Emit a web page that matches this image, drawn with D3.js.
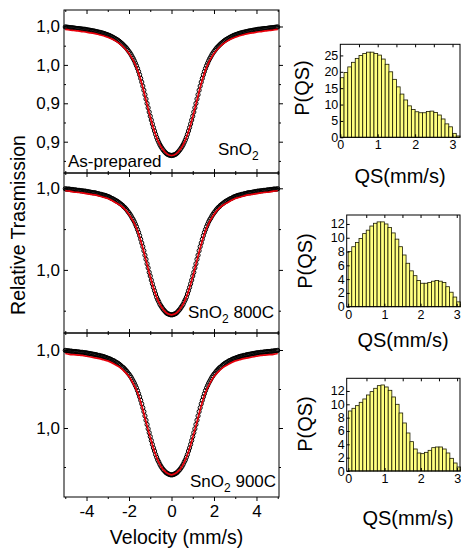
<!DOCTYPE html>
<html>
<head>
<meta charset="utf-8">
<script src="https://cdn.jsdelivr.net/npm/d3@7"></script>
<style>
  body { margin: 0; background: #fff; }
  svg { display: block; }
  text { font-family: "Liberation Sans", Arial, sans-serif; fill: #000; }
</style>
</head>
<body>
<svg id="fig" width="461" height="550"></svg>
<script>
// Mössbauer spectra: channel velocity = velStart + i * velStep (mm/s)
const velStart = -5, velStep = 0.05;
// fitted envelope sampled on a coarser grid
const fitStart = -5, fitStep = 0.2;

// Relative transmission, as-prepared SnO2
const specAsPrepared = [
  0.9997,0.9996,0.9995,0.9994,0.9993,0.9992,0.9992,0.9991,0.9990,0.9989,
  0.9988,0.9987,0.9987,0.9986,0.9985,0.9984,0.9983,0.9982,0.9982,0.9981,
  0.9979,0.9978,0.9976,0.9976,0.9974,0.9973,0.9971,0.9971,0.9969,0.9967,
  0.9966,0.9964,0.9962,0.9961,0.9959,0.9957,0.9955,0.9953,0.9950,0.9948,
  0.9945,0.9943,0.9940,0.9936,0.9933,0.9929,0.9925,0.9921,0.9917,0.9913,
  0.9908,0.9903,0.9897,0.9891,0.9885,0.9878,0.9871,0.9864,0.9856,0.9846,
  0.9837,0.9827,0.9816,0.9803,0.9791,0.9777,0.9761,0.9745,0.9727,0.9707,
  0.9686,0.9662,0.9638,0.9612,0.9585,0.9556,0.9528,0.9499,0.9471,0.9443,
  0.9416,0.9391,0.9366,0.9342,0.9320,0.9298,0.9278,0.9261,0.9246,0.9231,
  0.9219,0.9208,0.9198,0.9189,0.9181,0.9174,0.9169,0.9165,0.9163,0.9161,
  0.9160,
  0.9161,0.9163,0.9165,0.9169,0.9174,0.9181,0.9189,0.9198,0.9208,0.9219,
  0.9231,0.9246,0.9261,0.9278,0.9298,0.9320,0.9342,0.9366,0.9391,0.9416,
  0.9443,0.9471,0.9499,0.9528,0.9556,0.9585,0.9612,0.9638,0.9662,0.9686,
  0.9707,0.9727,0.9745,0.9761,0.9777,0.9791,0.9803,0.9816,0.9827,0.9837,
  0.9846,0.9856,0.9864,0.9871,0.9878,0.9885,0.9891,0.9897,0.9903,0.9908,
  0.9913,0.9917,0.9921,0.9925,0.9929,0.9933,0.9936,0.9940,0.9943,0.9945,
  0.9948,0.9950,0.9953,0.9955,0.9957,0.9959,0.9961,0.9962,0.9964,0.9966,
  0.9967,0.9969,0.9971,0.9971,0.9973,0.9974,0.9976,0.9976,0.9978,0.9979,
  0.9981,0.9982,0.9982,0.9983,0.9984,0.9985,0.9986,0.9987,0.9987,0.9988,
  0.9989,0.9990,0.9991,0.9992,0.9992,0.9993,0.9994,0.9995,0.9996,0.9997
];
const fitAsPrepared = [
  0.9981,0.9977,0.9974,0.9971,0.9967,0.9963,0.9958,0.9954,0.9947,0.9940,
  0.9930,0.9918,0.9903,0.9883,0.9857,0.9824,0.9779,0.9716,0.9629,0.9521,
  0.9411,0.9317,0.9244,0.9197,0.9169,
  0.9160,
  0.9169,0.9197,0.9244,0.9317,0.9411,0.9521,0.9629,0.9716,0.9779,0.9824,
  0.9857,0.9883,0.9903,0.9918,0.9930,0.9940,0.9947,0.9954,0.9958,0.9963,
  0.9967,0.9971,0.9974,0.9977,0.9981
];

// Relative transmission, SnO2 annealed at 800C
const spec800 = [
  0.9999,0.9998,0.9998,0.9998,0.9998,0.9997,0.9997,0.9997,0.9996,0.9996,
  0.9996,0.9995,0.9995,0.9995,0.9994,0.9994,0.9994,0.9993,0.9993,0.9993,
  0.9992,0.9992,0.9991,0.9991,0.9990,0.9990,0.9989,0.9989,0.9989,0.9988,
  0.9987,0.9987,0.9986,0.9985,0.9985,0.9984,0.9983,0.9983,0.9982,0.9981,
  0.9980,0.9979,0.9978,0.9976,0.9975,0.9974,0.9972,0.9971,0.9969,0.9968,
  0.9966,0.9964,0.9962,0.9960,0.9958,0.9955,0.9953,0.9950,0.9947,0.9943,
  0.9940,0.9936,0.9932,0.9927,0.9923,0.9918,0.9912,0.9906,0.9899,0.9892,
  0.9884,0.9875,0.9866,0.9857,0.9847,0.9836,0.9826,0.9815,0.9805,0.9794,
  0.9785,0.9775,0.9766,0.9757,0.9749,0.9741,0.9733,0.9727,0.9722,0.9716,
  0.9712,0.9708,0.9704,0.9701,0.9698,0.9695,0.9693,0.9692,0.9691,0.9690,
  0.9690,
  0.9690,0.9691,0.9692,0.9693,0.9695,0.9698,0.9701,0.9704,0.9708,0.9712,
  0.9716,0.9722,0.9727,0.9733,0.9741,0.9749,0.9757,0.9766,0.9775,0.9785,
  0.9794,0.9805,0.9815,0.9826,0.9836,0.9847,0.9857,0.9866,0.9875,0.9884,
  0.9892,0.9899,0.9906,0.9912,0.9918,0.9923,0.9927,0.9932,0.9936,0.9940,
  0.9943,0.9947,0.9950,0.9953,0.9955,0.9958,0.9960,0.9962,0.9964,0.9966,
  0.9968,0.9969,0.9971,0.9972,0.9974,0.9975,0.9976,0.9978,0.9979,0.9980,
  0.9981,0.9982,0.9983,0.9983,0.9984,0.9985,0.9985,0.9986,0.9987,0.9987,
  0.9988,0.9989,0.9989,0.9989,0.9990,0.9990,0.9991,0.9991,0.9992,0.9992,
  0.9993,0.9993,0.9993,0.9994,0.9994,0.9994,0.9995,0.9995,0.9995,0.9996,
  0.9996,0.9996,0.9997,0.9997,0.9997,0.9998,0.9998,0.9998,0.9998,0.9999
];
const fit800 = [
  0.9994,0.9993,0.9991,0.9990,0.9989,0.9987,0.9985,0.9984,0.9981,0.9978,
  0.9975,0.9970,0.9964,0.9958,0.9949,0.9936,0.9919,0.9896,0.9863,0.9824,
  0.9783,0.9748,0.9721,0.9704,0.9693,
  0.9690,
  0.9693,0.9704,0.9721,0.9748,0.9783,0.9824,0.9863,0.9896,0.9919,0.9936,
  0.9949,0.9958,0.9964,0.9970,0.9975,0.9978,0.9981,0.9984,0.9985,0.9987,
  0.9989,0.9990,0.9991,0.9993,0.9994
];

// Relative transmission, SnO2 annealed at 900C
const spec900 = [
  0.9999,0.9998,0.9998,0.9998,0.9997,0.9997,0.9997,0.9996,0.9996,0.9996,
  0.9996,0.9995,0.9995,0.9995,0.9994,0.9994,0.9994,0.9993,0.9993,0.9993,
  0.9992,0.9992,0.9991,0.9991,0.9990,0.9990,0.9989,0.9989,0.9988,0.9988,
  0.9987,0.9986,0.9986,0.9985,0.9984,0.9984,0.9983,0.9982,0.9981,0.9980,
  0.9979,0.9978,0.9977,0.9976,0.9974,0.9973,0.9972,0.9970,0.9968,0.9967,
  0.9965,0.9963,0.9961,0.9958,0.9956,0.9954,0.9951,0.9948,0.9945,0.9941,
  0.9938,0.9934,0.9930,0.9925,0.9920,0.9915,0.9909,0.9903,0.9896,0.9888,
  0.9880,0.9871,0.9862,0.9852,0.9842,0.9831,0.9820,0.9809,0.9798,0.9788,
  0.9778,0.9768,0.9758,0.9749,0.9741,0.9732,0.9725,0.9718,0.9713,0.9707,
  0.9702,0.9698,0.9694,0.9691,0.9688,0.9685,0.9684,0.9682,0.9681,0.9680,
  0.9680,
  0.9680,0.9681,0.9682,0.9684,0.9685,0.9688,0.9691,0.9694,0.9698,0.9702,
  0.9707,0.9713,0.9718,0.9725,0.9732,0.9741,0.9749,0.9758,0.9768,0.9778,
  0.9788,0.9798,0.9809,0.9820,0.9831,0.9842,0.9852,0.9862,0.9871,0.9880,
  0.9888,0.9896,0.9903,0.9909,0.9915,0.9920,0.9925,0.9930,0.9934,0.9938,
  0.9941,0.9945,0.9948,0.9951,0.9954,0.9956,0.9958,0.9961,0.9963,0.9965,
  0.9967,0.9968,0.9970,0.9972,0.9973,0.9974,0.9976,0.9977,0.9978,0.9979,
  0.9980,0.9981,0.9982,0.9983,0.9984,0.9984,0.9985,0.9986,0.9986,0.9987,
  0.9988,0.9988,0.9989,0.9989,0.9990,0.9990,0.9991,0.9991,0.9992,0.9992,
  0.9993,0.9993,0.9993,0.9994,0.9994,0.9994,0.9995,0.9995,0.9995,0.9996,
  0.9996,0.9996,0.9996,0.9997,0.9997,0.9997,0.9998,0.9998,0.9998,0.9999
];
const fit900 = [
  0.9991,0.9989,0.9988,0.9987,0.9986,0.9984,0.9982,0.9980,0.9978,0.9975,
  0.9972,0.9967,0.9961,0.9954,0.9944,0.9932,0.9914,0.9891,0.9857,0.9816,
  0.9776,0.9739,0.9712,0.9694,0.9684,
  0.9680,
  0.9684,0.9694,0.9712,0.9739,0.9776,0.9816,0.9857,0.9891,0.9914,0.9932,
  0.9944,0.9954,0.9961,0.9967,0.9972,0.9975,0.9978,0.9980,0.9982,0.9984,
  0.9986,0.9987,0.9988,0.9989,0.9991
];

// Tick values and their printed labels (comma decimal separator)
const velTicks = [-4, -2, 0, 2, 4];
const velMinor = [-5, -3, -1, 1, 3, 5];
const trTicksTop = [1.0, 0.975, 0.95, 0.925];
const trLabelsTop = ["1,0", "1,0", "0,9", "0,9"];
const trMinorTop = [0.9875, 0.9625, 0.9375, 0.9125];
const trTicksLow = [1.0, 0.98];
const trLabelsLow = ["1,0", "1,0"];
const trMinorLow = [0.99, 0.97];

// Quadrupole splitting distributions, bins of 0.1 mm/s starting at 0
const qsBinWidth = 0.1;
const pqsAsPrepared = [18.2,19.8,21.5,22.9,24.1,25.0,25.6,26.0,26.0,25.6,25.1,23.9,22.3,20.0,17.7,15.4,
                       13.2,11.4,9.6,8.5,7.8,7.5,7.5,7.9,8.0,7.6,6.8,5.6,4.1,3.2,1.2,0.4];
const pqs800 = [8.0,8.7,9.3,9.9,10.6,11.1,11.7,12.1,12.3,12.3,12.0,11.5,10.7,9.8,8.7,7.5,
                6.3,5.2,4.5,3.8,3.4,3.4,3.5,3.7,3.8,3.7,3.5,2.9,2.1,1.4,0.7,0.3];
const pqs900 = [9.0,9.4,9.8,10.3,10.8,11.4,11.9,12.4,12.8,12.9,12.6,12.1,11.1,10.0,8.7,7.2,
                5.7,4.4,3.3,2.7,2.6,2.8,3.1,3.5,3.6,3.6,3.3,2.7,1.9,1.2,0.6,0.3];
const qsTicks = [0, 1, 2, 3];
const pTicksTop = [0, 5, 10, 15, 20, 25];
const pTicksLow = [0, 2, 4, 6, 8, 10, 12];

const FONT = '"Liberation Sans", Arial, sans-serif';
const svg = d3.select("#fig");

// ---------- spectra column ----------
const specLeft = 64, specRight = 279;
const xVel = d3.scaleLinear().domain([-5.06, 5.06]).range([specLeft, specRight]);

const spectra = [
  { top: 10,  bottom: 173, dom: [0.90462, 1.01074], ticks: trTicksTop, labels: trLabelsTop, minor: trMinorTop,
    data: specAsPrepared, fit: fitAsPrepared },
  { top: 173, bottom: 333, dom: [0.964534, 1.00375], ticks: trTicksLow, labels: trLabelsLow, minor: trMinorLow,
    data: spec800, fit: fit800 },
  { top: 333, bottom: 497, dom: [0.962308, 1.004359], ticks: trTicksLow, labels: trLabelsLow, minor: trMinorLow,
    data: spec900, fit: fit900 }
];

function styleAxis(sel, size) {
  sel.select(".domain").remove();
  sel.selectAll("line").attr("stroke", "#000").attr("stroke-width", 1);
  sel.selectAll("text").attr("font-size", size).attr("font-family", FONT).attr("fill", "#000");
  sel.attr("font-size", null).attr("font-family", null);
}

spectra.forEach((p, k) => {
  const y = d3.scaleLinear().domain(p.dom).range([p.bottom, p.top]);
  const g = svg.append("g");

  g.append("g").selectAll("circle").data(p.data).join("circle")
    .attr("cx", (d, i) => xVel(velStart + i * velStep))
    .attr("cy", d => y(d))
    .attr("r", 2.1)
    .attr("fill", "none")
    .attr("stroke", "#000")
    .attr("stroke-width", 1);

  g.append("path").datum(p.fit)
    .attr("d", d3.line()
      .x((d, i) => xVel(fitStart + i * fitStep))
      .y(d => y(d))
      .curve(d3.curveCatmullRom))
    .attr("fill", "none")
    .attr("stroke", "#e8000b")
    .attr("stroke-width", 1.7);

  // left axis: labelled major ticks + minor ticks
  g.append("g").attr("transform", `translate(${specLeft},0)`)
    .call(d3.axisLeft(y).tickValues(p.ticks).tickFormat((d, i) => p.labels[i]).tickSize(-4).tickPadding(4))
    .call(s => styleAxis(s, 17));
  g.append("g").attr("transform", `translate(${specLeft},0)`)
    .call(d3.axisLeft(y).tickValues(p.minor).tickFormat("").tickSize(-2))
    .call(s => styleAxis(s, 17));
  // right axis mirror
  g.append("g").attr("transform", `translate(${specRight},0)`)
    .call(d3.axisRight(y).tickValues(p.ticks).tickFormat("").tickSize(4))
    .call(s => styleAxis(s, 17));
  g.append("g").attr("transform", `translate(${specRight},0)`)
    .call(d3.axisRight(y).tickValues(p.minor).tickFormat("").tickSize(2))
    .call(s => styleAxis(s, 17));
  // top and bottom edges carry velocity ticks
  g.append("g").attr("transform", `translate(0,${p.top})`)
    .call(d3.axisBottom(xVel).tickValues(velTicks).tickFormat("").tickSize(4))
    .call(s => styleAxis(s, 17));
  g.append("g").attr("transform", `translate(0,${p.top})`)
    .call(d3.axisBottom(xVel).tickValues(velMinor).tickFormat("").tickSize(2))
    .call(s => styleAxis(s, 17));
  const last = k === spectra.length - 1;
  g.append("g").attr("transform", `translate(0,${p.bottom})`)
    .call(d3.axisBottom(xVel).tickValues(velTicks)
      .tickFormat(last ? (d => d3.format("d")(d).replace("−", "-")) : "")
      .tickSize(last ? 4 : -4).tickPadding(4))
    .call(s => styleAxis(s, 17));
  g.append("g").attr("transform", `translate(0,${p.bottom})`)
    .call(d3.axisBottom(xVel).tickValues(velMinor).tickFormat("").tickSize(last ? 2 : -2))
    .call(s => styleAxis(s, 17));

  g.append("rect")
    .attr("x", specLeft).attr("y", p.top)
    .attr("width", specRight - specLeft).attr("height", p.bottom - p.top)
    .attr("fill", "none").attr("stroke", "#000").attr("stroke-width", 1);
});

// sample labels
function sampleLabel(x, y, suffix) {
  const t = svg.append("text").attr("x", x).attr("y", y).attr("font-size", 17);
  t.append("tspan").text("SnO");
  t.append("tspan").attr("font-size", 12).attr("dy", 5).text("2");
  if (suffix) t.append("tspan").attr("dy", -5).text(" " + suffix);
}
svg.append("text").attr("x", 68).attr("y", 167).attr("font-size", 17).text("As-prepared");
sampleLabel(218, 155, "");
sampleLabel(188, 318, "800C");
sampleLabel(190, 487, "900C");

svg.append("text")
  .attr("transform", "translate(25,225) rotate(-90)")
  .attr("text-anchor", "middle").attr("font-size", 19.5)
  .text("Relative Trasmission");
svg.append("text")
  .attr("x", 176.5).attr("y", 544)
  .attr("text-anchor", "middle").attr("font-size", 19.5)
  .text("Velocity (mm/s)");

// ---------- QS distribution column ----------
const hists = [
  { left: 340.3, right: 460, top: 44.3, bottom: 137.3, xDom: [0, 3.2], yDom: [0, 28.4], yTicks: pTicksTop,
    values: pqsAsPrepared, pLabel: [302, 88], qsLabel: [400, 183] },
  { left: 346.7, right: 460, top: 215, bottom: 306.7, xDom: [-0.04, 3.09], yDom: [0, 13.3], yTicks: pTicksLow,
    values: pqs800, pLabel: [305, 261], qsLabel: [403, 347] },
  { left: 346.7, right: 460, top: 378.3, bottom: 471, xDom: [-0.045, 3.08], yDom: [0, 13.9], yTicks: pTicksLow,
    values: pqs900, pLabel: [305, 424], qsLabel: [408, 525] }
];

hists.forEach(h => {
  const x = d3.scaleLinear().domain(h.xDom).range([h.left, h.right]);
  const y = d3.scaleLinear().domain(h.yDom).range([h.bottom, h.top]);
  const g = svg.append("g");

  g.append("g").selectAll("rect").data(h.values).join("rect")
    .attr("x", (d, i) => x(i * qsBinWidth))
    .attr("width", (d, i) => x((i + 1) * qsBinWidth) - x(i * qsBinWidth))
    .attr("y", d => y(d))
    .attr("height", d => y(0) - y(d))
    .attr("fill", "#ffff80")
    .attr("stroke", "#1a1a00")
    .attr("stroke-width", 0.8);

  g.append("g").attr("transform", `translate(${h.left},0)`)
    .call(d3.axisLeft(y).tickValues(h.yTicks).tickFormat(d3.format("d")).tickSize(-3).tickPadding(2))
    .call(s => styleAxis(s, 12.5));
  g.append("g").attr("transform", `translate(0,${h.bottom})`)
    .call(d3.axisBottom(x).tickValues(qsTicks).tickFormat(d3.format("d")).tickSize(-3).tickPadding(3))
    .call(s => styleAxis(s, 12.5));
  g.append("g").attr("transform", `translate(0,${h.top})`)
    .call(d3.axisBottom(x).tickValues([0.5, 1, 1.5, 2, 2.5, 3]).tickFormat("").tickSize(3))
    .call(s => styleAxis(s, 12.5));

  g.append("rect")
    .attr("x", h.left).attr("y", h.top)
    .attr("width", h.right - h.left).attr("height", h.bottom - h.top)
    .attr("fill", "none").attr("stroke", "#000").attr("stroke-width", 1);

  svg.append("text")
    .attr("transform", `translate(${h.pLabel[0] + 7},${h.pLabel[1]}) rotate(-90)`)
    .attr("text-anchor", "middle").attr("font-size", 20)
    .text("P(QS)");
  svg.append("text")
    .attr("x", h.qsLabel[0]).attr("y", h.qsLabel[1])
    .attr("text-anchor", "middle").attr("font-size", 20)
    .text("QS(mm/s)");
});
</script>
</body>
</html>
